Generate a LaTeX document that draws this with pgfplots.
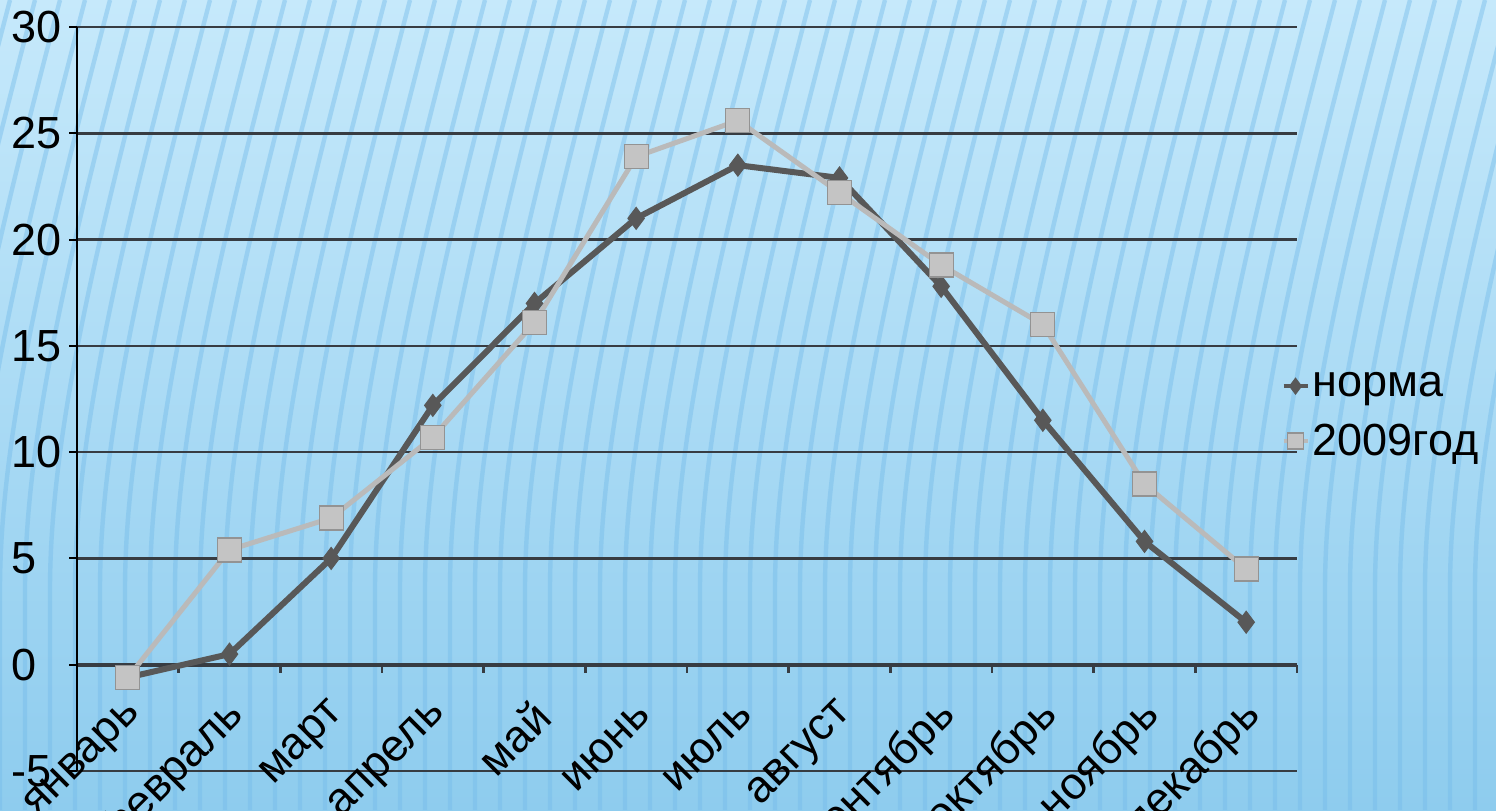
\documentclass[border=0pt]{standalone}
\usepackage{pgfplots}
\pgfplotsset{compat=1.18}
\usepackage{fontspec}
\setmainfont{Liberation Sans}
\definecolor{bgtop}{RGB}{198,233,251}
\definecolor{bgmid}{RGB}{178,223,247}
\definecolor{bgbot}{RGB}{142,204,238}
\definecolor{stripe}{RGB}{118,188,234}
\definecolor{normline}{RGB}{88,88,88}
\definecolor{yearline}{RGB}{186,186,186}
\definecolor{yearfill}{RGB}{196,196,196}
\definecolor{gridc}{RGB}{55,60,66}
\begin{document}
\begin{tikzpicture}[font=\fontsize{22.5}{27}\selectfont]
% background: blue gradient with soft stripes
\shade[top color=bgtop, middle color=bgmid, bottom color=bgbot] (0,0) rectangle (748pt,405pt);
\begin{scope}
\clip (0,0) rectangle (748pt,405pt);
\foreach \x in {-100,-87.5,...,760}{
  \draw[stripe, line width=2.2pt, opacity=0.45]
    (\x pt,0) -- (\x pt,110pt) .. controls (\x pt,190pt) and ({\x pt+25pt},290pt) .. ({\x pt+55pt},405pt);
}
\end{scope}

\begin{axis}[
  at={(38.5pt,19.5pt)}, anchor=south west,
  scale only axis, width=610pt, height=372pt,
  xmin=0.5, xmax=12.5, ymin=-5, ymax=30,
  axis x line*=middle, axis y line*=left,
  hide obscured x ticks=false,
  x axis line style={line width=2pt, color=gridc},
  y axis line style={line width=1pt, color=black},
  xtick={0.5,1.5,...,12.5},
  x tick label as interval,
  xticklabels={январь,февраль,март,апрель,май,июнь,июль,август,сентябрь,октябрь,ноябрь,декабрь},
  xtick align=outside, ytick align=outside,
  major tick length=4pt,
  x tick style={line width=1.2pt, color=gridc},
  y tick style={line width=1pt, color=black},
  xticklabel style={anchor=east, inner sep=0pt, yshift=-18pt, xshift=4pt, rotate=45},
  ytick={-5,0,...,30},
  ymajorgrids, grid style={line width=1.3pt, color=gridc},
  yticklabel style={anchor=west, inner sep=0pt, xshift=-29pt},
  /pgf/number format/assume math mode=true,
  tick label style={font=\fontsize{22.5}{27}\selectfont},
  legend style={draw=none, fill=none, at={(0.987,0.478)}, anchor=west,
    font=\fontsize{22.5}{27}\selectfont, row sep=9pt, inner sep=0pt,
    nodes={inner sep=1.5pt}},
  legend cell align=left,
  legend image code/.code={\draw[mark repeat=2,mark phase=2,#1]
    plot coordinates {(0pt,0pt)(6pt,0pt)(12pt,0pt)};},
  clip=false,
]

\addplot[color=normline, line width=3pt, mark=diamond*, mark size=5.5pt,
  mark options={fill=normline, draw=normline, line width=0.5pt},
  legend image post style={line width=2pt, mark size=4pt}]
  coordinates {
  (1,-0.6) (2,0.5) (3,5.0) (4,12.2) (5,17.0) (6,21.0)
  (7,23.5) (8,22.9) (9,17.8) (10,11.5) (11,5.8) (12,2.0)
  };
\addlegendentry{норма}

\addplot[color=yearline, line width=2.5pt, mark=square*, mark size=6pt,
  mark options={fill=yearfill, draw=gray!85, line width=0.6pt},
  legend image post style={line width=2pt, mark size=4pt}]
  coordinates {
  (1,-0.6) (2,5.4) (3,6.9) (4,10.7) (5,16.1) (6,23.9)
  (7,25.6) (8,22.2) (9,18.8) (10,16.0) (11,8.5) (12,4.5)
  };
\addlegendentry{2009год}

\end{axis}
\pgfresetboundingbox
\path[use as bounding box] (0,0) rectangle (748pt,405pt);
\end{tikzpicture}
\end{document}
